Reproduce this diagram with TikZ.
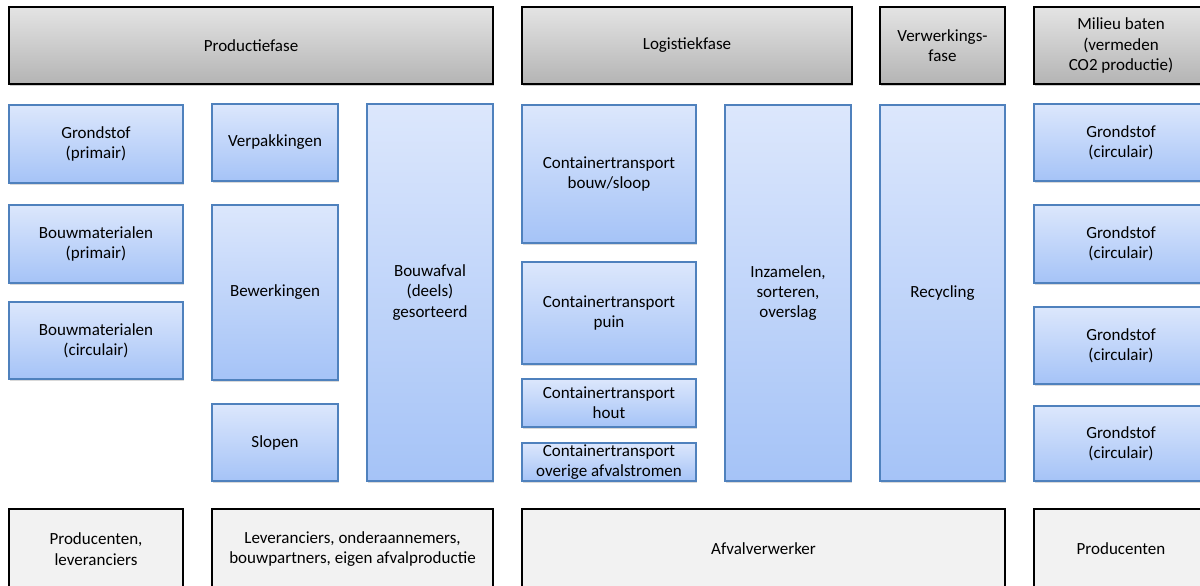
\documentclass[tikz,border=0pt]{standalone}
\usepackage{fontspec}
\setmainfont{Carlito}
\usetikzlibrary{shadows}
\definecolor{phasetop}{HTML}{E4E4E4}
\definecolor{phasebot}{HTML}{B4B4B4}
\definecolor{steptop}{HTML}{DCE7FC}
\definecolor{stepbot}{HTML}{A5C3F7}
\definecolor{stepline}{HTML}{4F81BD}
\definecolor{actorfill}{HTML}{F2F2F2}
\tikzset{
    phase/.style = {
        draw = black,
        line width = 1.2pt,
        top color = phasetop,
        bottom color = phasebot,
        drop shadow = {shadow xshift=1pt, shadow yshift=-1.5pt, opacity=0.4},
        align = center,
        inner sep = 0pt,
        },
    stepbox/.style = {
        draw = stepline,
        line width = 1pt,
        top color = steptop,
        bottom color = stepbot,
        drop shadow = {shadow xshift=1pt, shadow yshift=-1.2pt, opacity=0.3},
        align = center,
        inner sep = 0pt,
        },
    actor/.style = {
        draw = black,
        line width = 0.9pt,
        fill = actorfill,
        align = center,
        inner sep = 0pt,
        minimum height = 2cm,
        },
    wide/.style = {
        minimum width = 4.35cm,
        },
    narrow/.style = {
        minimum width = 3.15cm,
        },
}

\begin{document}
\begin{tikzpicture}[
        x = 0.025cm,
        y = -0.025cm,
        font = \fontsize{12.1}{14.5}\selectfont,
    ]
    \useasboundingbox (0,0) rectangle (1200,585);

    % phases
    \node [phase, minimum width=12.1cm, minimum height=1.925cm] (prodfase) at (251,45.5) {Productiefase};
    \node [phase, minimum width=8.25cm, minimum height=1.925cm] (logfase) at (687,45.5) {Logistiekfase};
    \node [phase, minimum width=3.125cm, minimum height=1.925cm] (verwfase) at (942.5,45.5) {Verwerkings-\\fase};
    \node [phase, wide, minimum height=1.925cm] (milieu) at (1121,45.5) {Milieu baten\\(vermeden\\CO2 productie)};

    % productie
    \node [stepbox, wide, minimum height=1.95cm] (grondprim) at (96,144) {Grondstof\\(primair)};
    \node [stepbox, wide, minimum height=1.95cm] (bouwprim) at (96,244) {Bouwmaterialen\\(primair)};
    \node [stepbox, wide, minimum height=1.925cm] (bouwcirc) at (96,340.5) {Bouwmaterialen\\(circulair)};

    \node [stepbox, narrow, minimum height=1.925cm] (verpak) at (275,142.5) {Verpakkingen};
    \node [stepbox, narrow, minimum height=4.375cm] (bewerk) at (275,292.5) {Bewerkingen};
    \node [stepbox, narrow, minimum height=1.925cm] (slopen) at (275,442.5) {Slopen};

    \node [stepbox, narrow, minimum height=9.425cm] (bouwafval) at (430,292.5) {Bouwafval\\(deels)\\gesorteerd};

    % logistiek
    \node [stepbox, wide, minimum height=3.45cm] (ctbouw) at (609,174) {Containertransport\\bouw/sloop};
    \node [stepbox, wide, minimum height=2.55cm] (ctpuin) at (609,313) {Containertransport\\puin};
    \node [stepbox, wide, minimum height=1.2cm] (cthout) at (609,403) {Containertransport\\hout};
    \node [stepbox, wide, minimum height=0.95cm] (ctoverig) at (609,462) {Containertransport\\overige afvalstromen};

    \node [stepbox, narrow, minimum height=9.4cm] (inzamel) at (788,293) {Inzamelen,\\sorteren,\\overslag};

    % verwerking
    \node [stepbox, minimum width=3.125cm, minimum height=9.4cm] (recycling) at (942.5,293) {Recycling};

    % milieu baten
    \node [stepbox, wide, minimum height=1.925cm] (grondcirc1) at (1121,142.5) {Grondstof\\(circulair)};
    \node [stepbox, wide, minimum height=1.95cm] (grondcirc2) at (1121,244) {Grondstof\\(circulair)};
    \node [stepbox, wide, minimum height=1.925cm] (grondcirc3) at (1121,345.5) {Grondstof\\(circulair)};
    \node [stepbox, wide, minimum height=1.875cm] (grondcirc4) at (1121,443.5) {Grondstof\\(circulair)};

    % actoren
    \node [actor, wide] (prodlev) at (96,549) {Producenten,\\leveranciers};
    \node [actor, minimum width=7.025cm] (leveranciers) at (352.5,549) {Leveranciers, onderaannemers,\\bouwpartners, eigen afvalproductie};
    \node [actor, minimum width=12.075cm] (afvalverw) at (763.5,549) {Afvalverwerker};
    \node [actor, wide] (producenten) at (1121,549) {Producenten};
\end{tikzpicture}
\end{document}
